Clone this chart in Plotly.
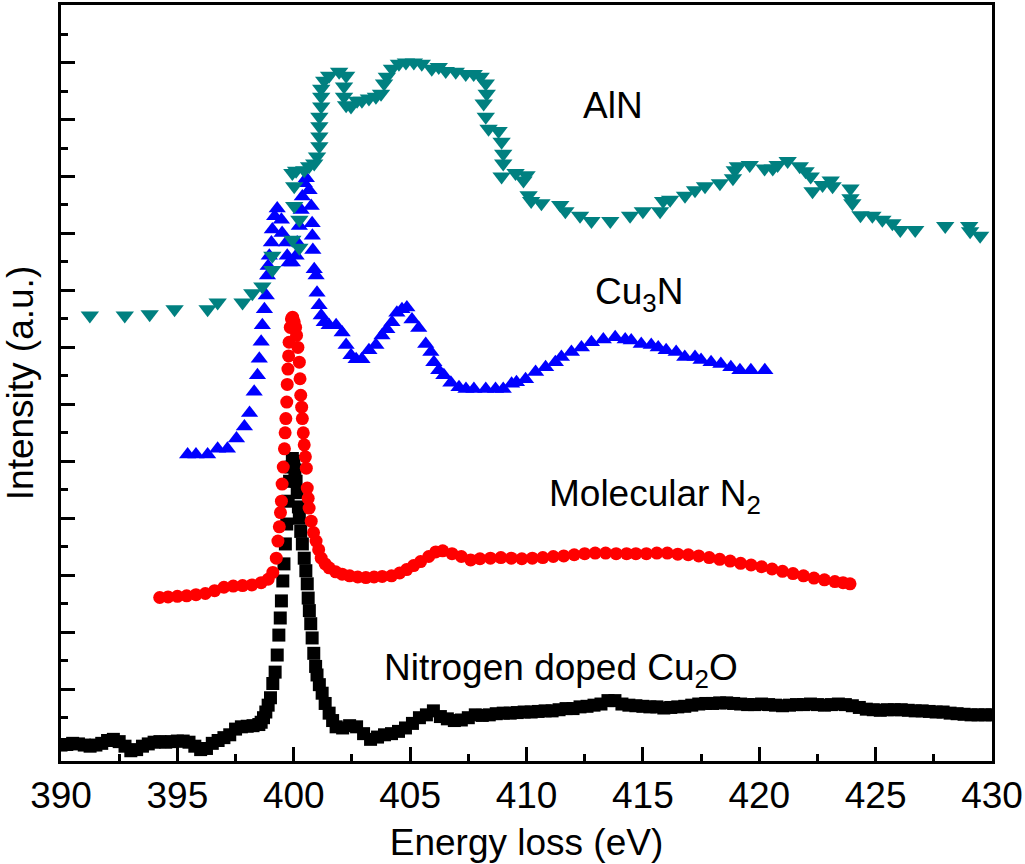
import plotly.graph_objects as go

# ---- data (energy loss in eV, intensity in a.u.) ----
# Nitrogen doped Cu2O (black squares)
cu2o_x = [390.0, 390.25, 390.5, 390.75, 391.0, 391.25, 391.5, 391.75, 392.0, 392.25,
          392.5, 392.75, 393.0, 393.25, 393.5, 393.75, 394.0, 394.25, 394.5, 394.75,
          395.0, 395.25, 395.5, 395.75, 396.0, 396.25, 396.5, 396.75, 397.0, 397.25,
          397.5, 397.75, 398.0, 398.25, 398.5, 398.6, 398.7, 398.8, 398.9, 399.0,
          399.1, 399.2, 399.29, 399.36, 399.42, 399.47, 399.53, 399.58, 399.64, 399.7,
          399.76, 399.82, 399.88, 399.94, 400.0, 400.05, 400.1, 400.15, 400.2, 400.24,
          400.3, 400.37, 400.45, 400.52, 400.58, 400.62, 400.67, 400.73, 400.79, 400.86,
          400.94, 401.0, 401.1, 401.22, 401.35, 401.52, 401.67, 401.82, 402.1, 402.4,
          402.7, 403.0, 403.3, 403.6, 403.9, 404.2, 404.5, 404.8, 405.1, 405.4,
          405.7, 406.0, 406.3, 406.6, 406.9, 407.2, 407.5, 407.8, 408.1, 408.4,
          408.7, 409.0, 409.3, 409.6, 409.9, 410.2, 410.5, 410.8, 411.1, 411.4,
          411.7, 412.0, 412.3, 412.6, 412.9, 413.2, 413.5, 413.8, 414.1, 414.4,
          414.7, 415.0, 415.3, 415.6, 415.9, 416.2, 416.5, 416.8, 417.1, 417.4,
          417.7, 418.0, 418.3, 418.6, 418.9, 419.2, 419.5, 419.8, 420.1, 420.4,
          420.7, 421.0, 421.3, 421.6, 421.9, 422.2, 422.5, 422.8, 423.1, 423.4,
          423.7, 424.0, 424.3, 424.6, 424.9, 425.2, 425.5, 425.8, 426.1, 426.4,
          426.7, 427.0, 427.3, 427.6, 427.9, 428.2, 428.5, 428.8, 429.1, 429.4,
          429.7, 430.0]
cu2o_y = [0.02, 0.03, 0.05, 0.04, 0.02, 0.0, 0.02, 0.05, 0.1, 0.12,
          0.08, 0.0, -0.08, -0.06, 0.0, 0.04, 0.07, 0.08, 0.07, 0.08,
          0.09, 0.09, 0.07, 0.0, -0.06, -0.04, 0.05, 0.1, 0.15, 0.2,
          0.3, 0.34, 0.35, 0.36, 0.38, 0.42, 0.5, 0.6, 0.72, 0.85,
          1.1, 1.3, 1.6, 1.95, 2.25, 2.55, 2.9, 3.2, 3.55, 3.9,
          4.3, 4.65, 4.9, 5.05, 5.0, 4.85, 4.65, 4.45, 4.2, 4.0,
          3.77, 3.55, 3.3, 3.08, 2.85, 2.6, 2.38, 2.15, 1.9, 1.63,
          1.4, 1.25, 1.08, 0.93, 0.75, 0.58, 0.45, 0.34, 0.32, 0.36,
          0.34, 0.22, 0.12, 0.16, 0.2, 0.22, 0.26, 0.32, 0.4, 0.5,
          0.55, 0.62, 0.52, 0.48, 0.45, 0.46, 0.5, 0.55, 0.54, 0.55,
          0.57, 0.58, 0.58, 0.59, 0.6, 0.6, 0.61, 0.62, 0.62, 0.64,
          0.66, 0.66, 0.69, 0.7, 0.72, 0.74, 0.8, 0.8, 0.74, 0.72,
          0.71, 0.7, 0.69, 0.69, 0.67, 0.68, 0.69, 0.7, 0.72, 0.74,
          0.75, 0.75, 0.76, 0.76, 0.75, 0.74, 0.73, 0.73, 0.74, 0.73,
          0.72, 0.71, 0.72, 0.73, 0.73, 0.74, 0.73, 0.72, 0.73, 0.74,
          0.73, 0.71, 0.68, 0.65, 0.64, 0.63, 0.64, 0.64, 0.64, 0.63,
          0.62, 0.62, 0.61, 0.6, 0.6, 0.58, 0.57, 0.56, 0.55, 0.55,
          0.55, 0.55]

# Molecular N2 (red circles)
n2_x = [394.24, 394.6, 395.0, 395.4, 395.8, 396.2, 396.6, 397.0, 397.4, 397.8,
        398.2, 398.6, 398.9, 399.1, 399.25, 399.32, 399.38, 399.43, 399.47, 399.5,
        399.55, 399.6, 399.63, 399.66, 399.7, 399.72, 399.75, 399.78, 399.8, 399.85,
        399.9, 399.95, 400.02, 400.08, 400.12, 400.18, 400.24, 400.27, 400.3, 400.34,
        400.37, 400.41, 400.45, 400.5, 400.54, 400.58, 400.62, 400.66, 400.75, 400.85,
        400.96, 401.07, 401.18, 401.35, 401.52, 401.8, 402.08, 402.4, 402.75, 403.1,
        403.45, 403.8, 404.2, 404.55, 404.85, 405.15, 405.45, 405.8, 406.1, 406.4,
        406.8, 407.2, 407.6, 408.0, 408.45, 408.9, 409.35, 409.8, 410.25, 410.7,
        411.15, 411.6, 412.05, 412.5, 412.95, 413.4, 413.85, 414.3, 414.7, 415.15,
        415.6, 416.05, 416.5, 416.95, 417.4, 417.85, 418.3, 418.75, 419.2, 419.65,
        420.1, 420.55, 421.0, 421.45, 421.9, 422.35, 422.8, 423.25, 423.6, 423.9]
n2_y = [2.61, 2.62, 2.63, 2.64, 2.66, 2.68, 2.73, 2.79, 2.81, 2.82,
        2.83, 2.87, 2.93, 3.05, 3.3, 3.6, 3.85, 4.1, 4.3, 4.6,
        4.9, 5.22, 5.5, 5.75, 6.04, 6.35, 6.62, 6.85, 7.09, 7.35,
        7.5, 7.53, 7.45, 7.35, 7.21, 7.0, 6.74, 6.45, 6.16, 5.95,
        5.75, 5.5, 5.29, 5.08, 4.88, 4.53, 4.35, 4.18, 3.95, 3.75,
        3.6, 3.45, 3.3, 3.2, 3.13, 3.06, 3.02, 2.99, 2.97, 2.96,
        2.97, 2.98, 2.99, 3.04, 3.1, 3.17, 3.24, 3.33, 3.41, 3.43,
        3.38, 3.33, 3.27, 3.29, 3.3, 3.31, 3.3, 3.29, 3.3, 3.31,
        3.33, 3.34, 3.36, 3.38, 3.39, 3.39, 3.38, 3.38, 3.38, 3.38,
        3.39, 3.39, 3.37, 3.36, 3.34, 3.31, 3.28, 3.25, 3.21, 3.18,
        3.15, 3.11, 3.07, 3.03, 2.99, 2.95, 2.92, 2.89, 2.87, 2.85]

# Cu3N (blue up-triangles)
cu3n_x = [395.44, 395.8, 396.3, 396.73, 397.15, 397.54, 397.88, 398.1, 398.3, 398.44,
          398.52, 398.6, 398.65, 398.74, 398.82, 398.87, 398.9, 398.95, 399.04, 399.08,
          399.18, 399.29, 399.47, 399.5, 399.68, 399.72, 399.8, 399.94, 400.1, 400.15,
          400.24, 400.32, 400.37, 400.45, 400.54, 400.66, 400.75, 400.79, 400.8, 400.82,
          400.88, 400.96, 401.0, 401.09, 401.18, 401.31, 401.52, 401.82, 402.08, 402.25,
          402.46, 402.68, 402.93, 403.23, 403.53, 403.79, 404.0, 404.22, 404.43, 404.65,
          404.86, 405.08, 405.37, 405.67, 405.89, 406.02, 406.23, 406.45, 406.75, 407.1,
          407.4, 407.74, 408.25, 408.67, 409.0, 409.36, 409.57, 409.96, 410.39, 410.82,
          411.24, 411.5, 411.93, 412.36, 412.79, 413.3, 413.81, 414.24, 414.5, 414.93,
          415.36, 415.66, 416.0, 416.43, 416.8, 417.24, 417.5, 417.93, 418.35, 418.78,
          419.17, 419.64, 420.24]
cu3n_y = [5.12, 5.12, 5.12, 5.22, 5.22, 5.4, 5.61, 5.85, 6.22, 6.51,
          6.8, 7.1, 7.39, 7.67, 7.91, 8.26, 8.43, 8.61, 8.84, 9.07,
          9.3, 9.44, 9.24, 9.01, 8.84, 8.61, 8.49, 8.49, 8.61, 8.84,
          9.13, 9.41, 9.65, 9.88, 9.97, 9.76, 9.48, 9.18, 8.96, 8.71,
          8.37, 8.26, 7.96, 7.74, 7.56, 7.44, 7.39, 7.39, 7.26, 7.04,
          6.86, 6.79, 6.79, 6.95, 7.04, 7.21, 7.32, 7.44, 7.61, 7.67,
          7.7, 7.49, 7.34, 7.06, 6.92, 6.74, 6.6, 6.51, 6.38, 6.3,
          6.27, 6.27, 6.27, 6.27, 6.27, 6.36, 6.39, 6.44, 6.57, 6.65,
          6.74, 6.83, 6.92, 7.0, 7.09, 7.14, 7.18, 7.14, 7.12, 7.06,
          7.04, 7.0, 6.95, 6.92, 6.83, 6.83, 6.78, 6.74, 6.71, 6.65,
          6.6, 6.6, 6.6]

# AlN (teal down-triangles)
aln_x = [391.24, 392.74, 393.81, 394.88, 396.3, 396.73, 397.8, 398.22, 398.65, 399.08,
         399.08, 399.94, 400.24, 400.02, 400.24, 400.02, 399.94, 400.1, 400.45, 400.66,
         400.88, 401.0, 401.1, 401.1, 401.1, 401.1, 401.18, 401.18, 401.18, 401.31,
         401.52, 401.95, 402.25, 402.16, 402.16, 402.25, 402.46, 402.72, 402.93, 403.23,
         403.53, 403.75, 403.88, 404.0, 404.22, 404.52, 404.82, 405.16, 405.5, 405.93,
         406.23, 406.53, 406.96, 407.39, 407.73, 408.03, 408.25, 408.29, 408.16, 408.25,
         408.37, 408.8, 408.93, 409.0, 409.0, 408.93, 409.53, 409.87, 410.0, 410.09,
         410.2, 410.64, 411.45, 411.67, 412.3, 412.79, 413.6, 414.45, 415.0, 415.74,
         415.87, 416.17, 416.81, 417.24, 417.67, 418.31, 418.87, 418.95, 419.08, 419.59,
         420.23, 420.58, 420.79, 421.22, 421.74, 421.99, 422.21, 422.29, 422.72, 423.07,
         423.15, 423.92, 423.92, 424.0, 424.35, 424.86, 425.29, 425.72, 426.06, 426.7,
         427.99, 429.02, 429.06, 429.49]
aln_y = [7.56, 7.56, 7.58, 7.67, 7.67, 7.79, 7.79, 7.95, 8.07, 8.36,
         8.61, 8.89, 8.75, 9.48, 9.24, 9.83, 10.06, 10.1, 10.11, 10.18,
         10.23, 10.35, 10.53, 10.7, 10.88, 11.05, 11.23, 11.4, 11.54, 11.68,
         11.77, 11.84, 11.77, 11.58, 11.4, 11.25, 11.23, 11.33, 11.33, 11.37,
         11.4, 11.45, 11.63, 11.75, 11.89, 11.98, 12.0, 12.0, 11.98, 11.89,
         11.92, 11.85, 11.84, 11.8, 11.8, 11.75, 11.63, 11.45, 11.28, 11.05,
         10.84, 10.8, 10.61, 10.4, 10.23, 10.0, 10.06, 9.93, 10.02, 9.67,
         9.57, 9.53, 9.5, 9.39, 9.31, 9.22, 9.22, 9.31, 9.39, 9.39,
         9.57, 9.59, 9.66, 9.76, 9.83, 9.88, 9.97, 10.11, 10.18, 10.2,
         10.14, 10.14, 10.2, 10.27, 10.18, 10.09, 10.0, 9.74, 9.85, 9.93,
         9.83, 9.79, 9.62, 9.53, 9.32, 9.31, 9.24, 9.18, 9.06, 9.06,
         9.13, 9.13, 9.04, 8.96]

FONT = "Arial, Liberation Sans, sans-serif"

fig = go.Figure()

# order matters: blue under teal, black under red
fig.add_trace(go.Scatter(x=cu3n_x, y=cu3n_y, mode="markers", name="Cu3N",
                         marker=dict(symbol="triangle-up", size=15, color="#0000ff")))
fig.add_trace(go.Scatter(x=aln_x, y=aln_y, mode="markers", name="AlN",
                         marker=dict(symbol="triangle-down", size=16, color="#008080")))
fig.add_trace(go.Scatter(x=cu2o_x, y=cu2o_y, mode="markers", name="N-doped Cu2O",
                         marker=dict(symbol="square", size=13, color="black")))
fig.add_trace(go.Scatter(x=n2_x, y=n2_y, mode="markers", name="Molecular N2",
                         marker=dict(symbol="circle", size=13, color="#ff0000")))

labels = [
    ("AlN", 412.36, 11.24),
    ("Cu<sub>3</sub>N", 412.87, 7.93),
    ("Molecular N<sub>2</sub>", 410.9, 4.39),
    ("Nitrogen doped Cu<sub>2</sub>O", 403.8, 1.33),
]
for txt, lx, ly in labels:
    fig.add_annotation(x=lx, y=ly, text=txt, showarrow=False, xanchor="left",
                       yanchor="middle", font=dict(family=FONT, size=37, color="black"))

fig.update_xaxes(
    range=[390, 430], dtick=5, tick0=390,
    ticks="inside", ticklen=14, tickwidth=2.5, tickcolor="black",
    minor=dict(dtick=2.5, ticks="inside", ticklen=7, tickwidth=2.5, tickcolor="black"),
    showline=True, linewidth=3, linecolor="black", mirror=True,
    showgrid=False, zeroline=False, layer="below traces",
    ticklabeloverflow="allow",
    tickfont=dict(family=FONT, size=37, color="black"),
    title=dict(text="Energy loss (eV)", font=dict(family=FONT, size=37, color="black"),
               standoff=14),
)
fig.update_yaxes(
    range=[-0.26, 13.01], dtick=1, tick0=0,
    ticks="inside", ticklen=14, tickwidth=2.5, tickcolor="black",
    minor=dict(dtick=0.5, ticks="inside", ticklen=7, tickwidth=2.5, tickcolor="black"),
    showticklabels=False,
    showline=True, linewidth=3, linecolor="black", mirror=True,
    showgrid=False, zeroline=False, layer="below traces",
    title=dict(text="Intensity (a.u.)", font=dict(family=FONT, size=37, color="black"),
               standoff=14),
)

fig.update_layout(
    width=1025, height=864,
    margin=dict(l=61, r=30, t=2, b=103),
    plot_bgcolor="white", paper_bgcolor="white",
    showlegend=False,
)

# drop the browser's default body margin so the figure sits at the page corner
fig.write_html("out.html", config={"displayModeBar": False},
               post_script="document.body.style.margin='0';")
